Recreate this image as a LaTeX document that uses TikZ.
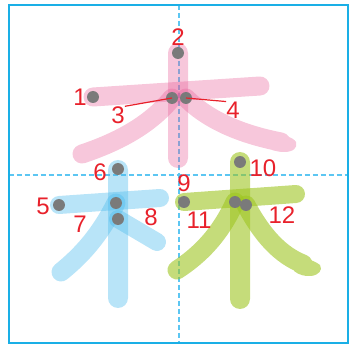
\documentclass[tikz,border=0pt]{standalone}
\usepackage{fontspec}
\setmainfont{Liberation Sans}
\definecolor{framecol}{HTML}{1AAFE6}
\definecolor{guidecol}{HTML}{5CC6F2}
\definecolor{pinkS}{HTML}{E75E97}
\definecolor{blueS}{HTML}{4EBBED}
\definecolor{greenS}{HTML}{9EC521}
\definecolor{numred}{HTML}{E8212B}
\definecolor{dotgray}{HTML}{7A7A7A}
\tikzset{
  guide/.style={guidecol, line width=1.5pt, dash pattern=on 5pt off 3pt},
  brush/.style={line width=19pt, line cap=round},
  pinkgrp/.style={transparency group, opacity=0.35},
  bluegrp/.style={transparency group, opacity=0.4},
  greengrp/.style={transparency group, opacity=0.6},
  sdot/.style={circle, fill=dotgray, inner sep=0pt, minimum size=12pt},
  num/.style={text=numred, inner sep=0pt, font=\fontsize{24pt}{24pt}\selectfont},
  lead/.style={numred, line width=1.2pt}
}
\begin{document}
\begin{tikzpicture}[x=1pt, y=-1pt]
\useasboundingbox (0,0) rectangle (349,345);
% guides
\draw[guide] (179,5) -- (179,343.5);
\draw[guide] (8.5,175) -- (347.5,175);
% pink
\begin{scope}[pinkgrp]\draw[brush, pinkS] (93,97) -- (260,86);\end{scope}
\begin{scope}[pinkgrp]\draw[brush, pinkS, line width=20pt] (178,53) -- (178,158);\end{scope}
\begin{scope}[pinkgrp]\draw[brush, pinkS] (172,98) .. controls (150,125) and (118,142) .. (82,154);\end{scope}
\begin{scope}[pinkgrp]
  \draw[brush, pinkS] (186,98) .. controls (210,122) and (245,135) .. (281,142);
  \fill[pinkS] (270,132) .. controls (283,135) and (293,137) .. (296,142)
     .. controls (298,148) and (293,152) .. (284,152) .. controls (280,152) and (276,151) .. (272,150) -- cycle;
\end{scope}
% blue
\begin{scope}[bluegrp]\draw[brush, blueS, line width=18pt] (59,205) -- (160,198);\end{scope}
\begin{scope}[bluegrp]\draw[brush, blueS, line width=20pt] (118,170) -- (118,298);\end{scope}
\begin{scope}[bluegrp]\draw[brush, blueS] (116,203) .. controls (100,235) and (82,255) .. (61,272);\end{scope}
\begin{scope}[bluegrp]\draw[brush, blueS, line width=18pt] (118,219) -- (157,242);\end{scope}
% green
\begin{scope}[greengrp]\draw[brush, greenS, line width=18pt] (184,202) -- (296,194);\end{scope}
\begin{scope}[greengrp]\draw[brush, greenS, line width=20pt] (240,162) -- (240,299);\end{scope}
\begin{scope}[greengrp]\draw[brush, greenS] (235,202) .. controls (220,235) and (200,255) .. (177,270);\end{scope}
\begin{scope}[greengrp]
  \draw[brush, greenS] (246,205) .. controls (262,235) and (280,255) .. (303,264);
  \fill[greenS] (298,255) .. controls (308,259) and (317,262) .. (320,265)
     .. controls (323,270) and (319,275) .. (311,276) .. controls (305,276.5) and (299,275) .. (294,271) -- cycle;
\end{scope}
% frame
\draw[framecol, line width=2pt] (8.5,5) rectangle (347.5,343.5);
% dots
\node[sdot] (d1) at (93,97) {};
\node[sdot] (d2) at (178,53) {};
\node[sdot] (d3) at (172,98) {};
\node[sdot] (d4) at (186,98) {};
\node[sdot] (d5) at (59,205) {};
\node[sdot] (d6) at (118,169) {};
\node[sdot] (d7) at (116,203) {};
\node[sdot] (d8) at (118,219) {};
\node[sdot] (d9) at (184,202) {};
\node[sdot] (d10) at (240,162) {};
\node[sdot] (d11) at (235,202) {};
\node[sdot] (d12) at (246,205) {};
% labels
\node[num] (l1) at (80,97) {1};
\node[num] (l2) at (178,37) {2};
\node[num] (l3) at (118,115) {3};
\node[num] (l4) at (233,110) {4};
\node[num] (l5) at (43,206) {5};
\node[num] (l6) at (100,172) {6};
\node[num] (l7) at (80,224) {7};
\node[num] (l8) at (151,217) {8};
\node[num] (l9) at (184,183) {9};
\node[num] (l10) at (263,168) {10};
\node[num] (l11) at (199,220) {11};
\node[num] (l12) at (282,215) {12};
% leaders
\draw[lead] (l3.north east) -- (d3.center);
\draw[lead] (l4.north west) -- (d4.center);
\end{tikzpicture}
\end{document}
